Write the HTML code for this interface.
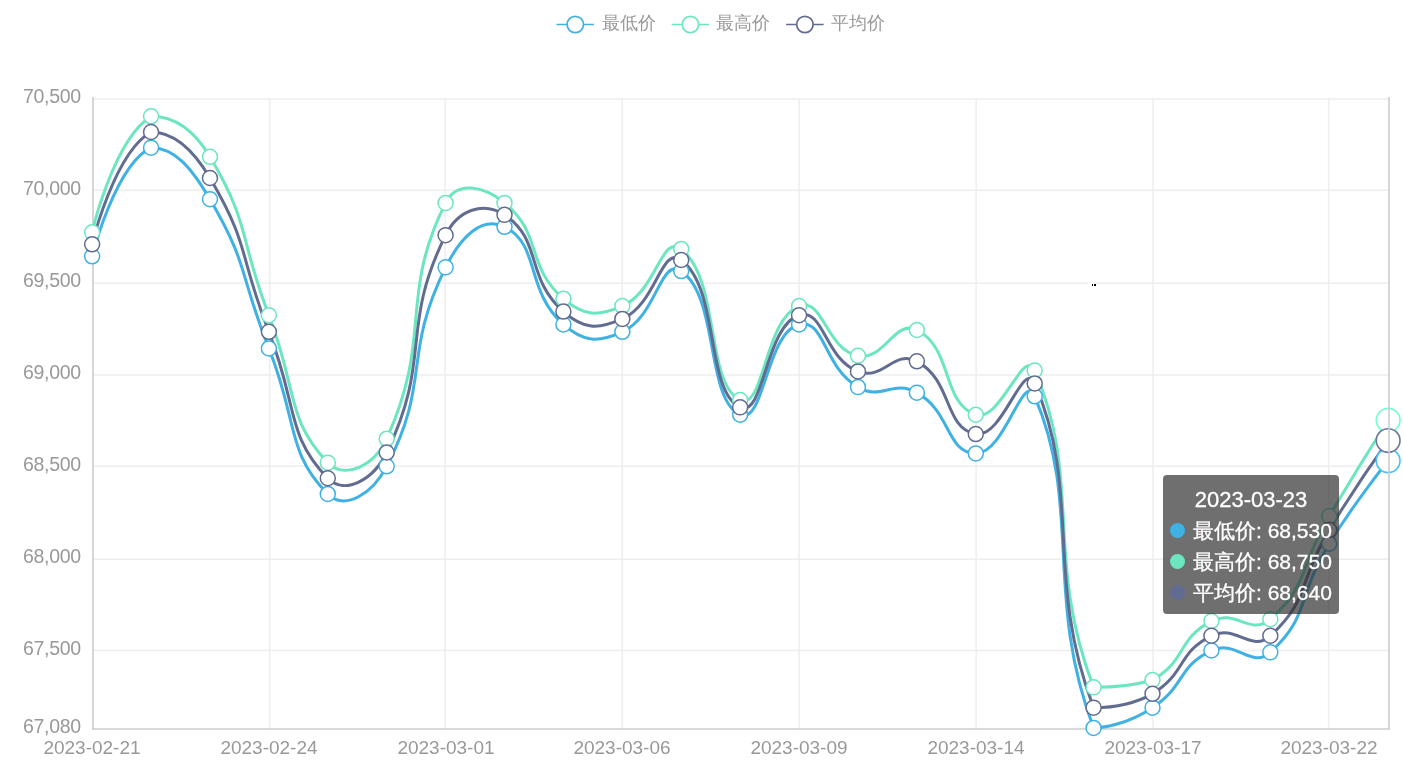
<!DOCTYPE html>
<html><head><meta charset="utf-8"><style>
html,body{margin:0;padding:0;background:#fff;width:1403px;height:762px;overflow:hidden;}
body{position:relative;font-family:"Liberation Sans",sans-serif;}
.yl,.xl,.lg,.tt{will-change:transform;}
svg{position:absolute;left:0;top:0;}
.yl{position:absolute;right:1322px;color:#999;font-size:19.5px;letter-spacing:-0.3px;line-height:20px;height:20px;white-space:nowrap;}
.xl{position:absolute;width:200px;text-align:center;color:#999;font-size:19px;line-height:20px;white-space:nowrap;}
.lg{position:absolute;top:12px;color:#999;font-size:18px;line-height:22px;white-space:nowrap;}
.tt{position:absolute;left:1163px;top:475px;width:176px;height:139px;background:rgba(50,50,50,0.7);border-radius:4px;color:#fff;font-size:21px;-webkit-text-stroke:0.3px #fff;}
.tt .t{position:absolute;left:0;width:176px;text-align:center;top:12px;line-height:26px;font-size:22px;}
.tt .r{position:absolute;left:30px;line-height:26px;white-space:nowrap;}
.tt .d{position:absolute;left:7px;width:15px;height:15px;border-radius:50%;}
</style></head><body>

<svg width="1403" height="762" viewBox="0 0 1403 762">
<line x1="93.00" y1="99.00" x2="1389.00" y2="99.00" stroke="#eeeeee" stroke-width="1.5"/>
<line x1="93.00" y1="190.20" x2="1389.00" y2="190.20" stroke="#eeeeee" stroke-width="1.5"/>
<line x1="93.00" y1="283.20" x2="1389.00" y2="283.20" stroke="#eeeeee" stroke-width="1.5"/>
<line x1="93.00" y1="374.90" x2="1389.00" y2="374.90" stroke="#eeeeee" stroke-width="1.5"/>
<line x1="93.00" y1="466.20" x2="1389.00" y2="466.20" stroke="#eeeeee" stroke-width="1.5"/>
<line x1="93.00" y1="559.20" x2="1389.00" y2="559.20" stroke="#eeeeee" stroke-width="1.5"/>
<line x1="93.00" y1="650.60" x2="1389.00" y2="650.60" stroke="#eeeeee" stroke-width="1.5"/>
<line x1="269.70" y1="99.00" x2="269.70" y2="729.00" stroke="#eeeeee" stroke-width="1.5"/>
<line x1="445.10" y1="99.00" x2="445.10" y2="729.00" stroke="#eeeeee" stroke-width="1.5"/>
<line x1="622.20" y1="99.00" x2="622.20" y2="729.00" stroke="#eeeeee" stroke-width="1.5"/>
<line x1="799.10" y1="99.00" x2="799.10" y2="729.00" stroke="#eeeeee" stroke-width="1.5"/>
<line x1="976.10" y1="99.00" x2="976.10" y2="729.00" stroke="#eeeeee" stroke-width="1.5"/>
<line x1="1153.10" y1="99.00" x2="1153.10" y2="729.00" stroke="#eeeeee" stroke-width="1.5"/>
<line x1="1328.60" y1="99.00" x2="1328.60" y2="729.00" stroke="#eeeeee" stroke-width="1.5"/>
<line x1="93.00" y1="97.00" x2="93.00" y2="730.00" stroke="#cccccc" stroke-width="1.6"/>
<line x1="92.00" y1="729.00" x2="1390.00" y2="729.00" stroke="#cccccc" stroke-width="1.6"/>
<path d="M93.00 257.42 C93.00 257.42 115.84 166.22 151.91 148.74 C174.75 148.74 191.50 167.39 210.82 200.32 C250.41 267.78 239.96 275.05 269.73 349.53 C298.86 422.42 286.99 453.38 328.64 495.05 C345.90 512.32 373.48 494.47 387.55 467.42 C432.39 381.18 402.64 357.52 446.45 268.47 C461.55 237.79 482.66 216.94 505.36 227.95 C541.57 245.50 525.53 291.05 564.27 325.58 C584.44 343.55 598.90 343.96 623.18 332.95 C657.81 317.25 661.31 257.54 682.09 272.16 C720.22 298.98 706.23 400.08 741.00 415.84 C765.14 426.79 767.14 333.26 799.91 325.58 C826.05 319.45 823.92 368.02 858.82 388.21 C882.83 402.10 893.49 380.10 917.73 393.74 C952.40 413.25 946.72 453.59 976.64 454.53 C1005.63 455.43 1024.01 370.54 1035.55 397.42 C1082.91 507.77 1044.74 597.64 1094.45 729.00 C1103.65 729.00 1127.94 725.43 1153.36 708.74 C1186.85 686.75 1177.99 667.71 1212.27 651.63 C1236.90 640.08 1252.16 670.72 1271.18 653.47 C1311.07 617.30 1297.77 597.35 1330.09 544.79 C1356.68 501.56 1389.00 461.89 1389.00 461.89" fill="none" stroke="#3fb1e3" stroke-width="3" stroke-linejoin="round" transform="translate(-0.85 -1.10)"/>
<path d="M93.00 233.47 C93.00 233.47 113.89 141.79 151.91 117.42 C172.80 117.42 193.31 128.38 210.82 157.95 C252.21 227.85 239.35 237.52 269.73 316.37 C298.25 390.41 286.58 419.68 328.64 463.74 C345.49 481.39 375.33 466.72 387.55 439.79 C434.24 336.85 399.04 298.89 446.45 204.00 C457.95 181.00 485.11 187.54 505.36 204.00 C544.02 235.43 525.72 266.03 564.27 299.79 C584.63 317.61 598.45 317.60 623.18 307.16 C657.36 292.73 662.30 234.27 682.09 250.05 C721.21 281.24 706.02 384.15 741.00 401.11 C764.93 412.70 765.16 320.20 799.91 307.16 C824.07 298.09 826.70 350.37 858.82 356.89 C885.61 362.34 895.11 319.79 917.73 331.11 C954.02 349.26 942.26 404.02 976.64 415.84 C1001.17 424.28 1024.59 346.27 1035.55 371.63 C1083.50 482.59 1044.71 557.81 1094.45 688.47 C1103.62 688.47 1128.86 688.47 1153.36 681.11 C1187.77 661.74 1177.77 639.96 1212.27 622.16 C1236.68 609.57 1251.65 637.73 1271.18 620.32 C1310.56 585.23 1299.83 568.26 1330.09 517.16 C1358.74 468.78 1389.00 421.37 1389.00 421.37" fill="none" stroke="#6be6c1" stroke-width="3" stroke-linejoin="round" transform="translate(-0.85 -1.10)"/>
<path d="M93.00 245.45 C93.00 245.45 114.84 153.94 151.91 133.08 C173.75 133.08 192.43 147.93 210.82 179.13 C251.33 247.86 239.65 256.29 269.73 332.95 C298.56 406.42 286.78 436.53 328.64 479.39 C345.69 496.86 374.46 480.61 387.55 453.61 C433.37 359.03 400.31 329.31 446.45 236.24 C459.22 210.49 484.46 202.41 505.36 215.97 C543.37 240.63 525.63 278.54 564.27 312.68 C584.53 330.58 598.67 330.78 623.18 320.05 C657.58 304.99 661.81 245.88 682.09 261.11 C720.72 290.09 706.12 392.11 741.00 408.47 C765.03 419.74 766.14 326.66 799.91 316.37 C825.05 308.70 824.85 359.28 858.82 372.55 C883.76 382.30 894.77 350.22 917.73 362.42 C953.68 381.53 944.44 429.14 976.64 435.18 C1003.35 440.20 1024.31 358.43 1035.55 384.53 C1083.21 495.21 1044.68 577.62 1094.45 708.74 C1103.59 708.74 1128.47 708.74 1153.36 694.92 C1187.38 674.18 1177.87 653.84 1212.27 636.89 C1236.78 624.82 1251.91 654.22 1271.18 636.89 C1310.82 601.26 1298.81 582.82 1330.09 530.97 C1357.71 485.19 1389.00 441.63 1389.00 441.63" fill="none" stroke="#626c91" stroke-width="3" stroke-linejoin="round" transform="translate(-0.85 -1.10)"/>
<circle cx="92.15" cy="256.32" r="7.5" fill="#fff" stroke="#3fb1e3" stroke-width="1.5"/>
<circle cx="151.06" cy="147.64" r="7.5" fill="#fff" stroke="#3fb1e3" stroke-width="1.5"/>
<circle cx="209.97" cy="199.22" r="7.5" fill="#fff" stroke="#3fb1e3" stroke-width="1.5"/>
<circle cx="268.88" cy="348.43" r="7.5" fill="#fff" stroke="#3fb1e3" stroke-width="1.5"/>
<circle cx="327.79" cy="493.95" r="7.5" fill="#fff" stroke="#3fb1e3" stroke-width="1.5"/>
<circle cx="386.70" cy="466.32" r="7.5" fill="#fff" stroke="#3fb1e3" stroke-width="1.5"/>
<circle cx="445.60" cy="267.37" r="7.5" fill="#fff" stroke="#3fb1e3" stroke-width="1.5"/>
<circle cx="504.51" cy="226.85" r="7.5" fill="#fff" stroke="#3fb1e3" stroke-width="1.5"/>
<circle cx="563.42" cy="324.48" r="7.5" fill="#fff" stroke="#3fb1e3" stroke-width="1.5"/>
<circle cx="622.33" cy="331.85" r="7.5" fill="#fff" stroke="#3fb1e3" stroke-width="1.5"/>
<circle cx="681.24" cy="271.06" r="7.5" fill="#fff" stroke="#3fb1e3" stroke-width="1.5"/>
<circle cx="740.15" cy="414.74" r="7.5" fill="#fff" stroke="#3fb1e3" stroke-width="1.5"/>
<circle cx="799.06" cy="324.48" r="7.5" fill="#fff" stroke="#3fb1e3" stroke-width="1.5"/>
<circle cx="857.97" cy="387.11" r="7.5" fill="#fff" stroke="#3fb1e3" stroke-width="1.5"/>
<circle cx="916.88" cy="392.64" r="7.5" fill="#fff" stroke="#3fb1e3" stroke-width="1.5"/>
<circle cx="975.79" cy="453.43" r="7.5" fill="#fff" stroke="#3fb1e3" stroke-width="1.5"/>
<circle cx="1034.70" cy="396.32" r="7.5" fill="#fff" stroke="#3fb1e3" stroke-width="1.5"/>
<circle cx="1093.60" cy="727.90" r="7.5" fill="#fff" stroke="#3fb1e3" stroke-width="1.5"/>
<circle cx="1152.51" cy="707.64" r="7.5" fill="#fff" stroke="#3fb1e3" stroke-width="1.5"/>
<circle cx="1211.42" cy="650.53" r="7.5" fill="#fff" stroke="#3fb1e3" stroke-width="1.5"/>
<circle cx="1270.33" cy="652.37" r="7.5" fill="#fff" stroke="#3fb1e3" stroke-width="1.5"/>
<circle cx="1329.24" cy="543.69" r="7.5" fill="#fff" stroke="#3fb1e3" stroke-width="1.5"/>
<circle cx="92.15" cy="232.37" r="7.5" fill="#fff" stroke="#6be6c1" stroke-width="1.5"/>
<circle cx="151.06" cy="116.32" r="7.5" fill="#fff" stroke="#6be6c1" stroke-width="1.5"/>
<circle cx="209.97" cy="156.85" r="7.5" fill="#fff" stroke="#6be6c1" stroke-width="1.5"/>
<circle cx="268.88" cy="315.27" r="7.5" fill="#fff" stroke="#6be6c1" stroke-width="1.5"/>
<circle cx="327.79" cy="462.64" r="7.5" fill="#fff" stroke="#6be6c1" stroke-width="1.5"/>
<circle cx="386.70" cy="438.69" r="7.5" fill="#fff" stroke="#6be6c1" stroke-width="1.5"/>
<circle cx="445.60" cy="202.90" r="7.5" fill="#fff" stroke="#6be6c1" stroke-width="1.5"/>
<circle cx="504.51" cy="202.90" r="7.5" fill="#fff" stroke="#6be6c1" stroke-width="1.5"/>
<circle cx="563.42" cy="298.69" r="7.5" fill="#fff" stroke="#6be6c1" stroke-width="1.5"/>
<circle cx="622.33" cy="306.06" r="7.5" fill="#fff" stroke="#6be6c1" stroke-width="1.5"/>
<circle cx="681.24" cy="248.95" r="7.5" fill="#fff" stroke="#6be6c1" stroke-width="1.5"/>
<circle cx="740.15" cy="400.01" r="7.5" fill="#fff" stroke="#6be6c1" stroke-width="1.5"/>
<circle cx="799.06" cy="306.06" r="7.5" fill="#fff" stroke="#6be6c1" stroke-width="1.5"/>
<circle cx="857.97" cy="355.79" r="7.5" fill="#fff" stroke="#6be6c1" stroke-width="1.5"/>
<circle cx="916.88" cy="330.01" r="7.5" fill="#fff" stroke="#6be6c1" stroke-width="1.5"/>
<circle cx="975.79" cy="414.74" r="7.5" fill="#fff" stroke="#6be6c1" stroke-width="1.5"/>
<circle cx="1034.70" cy="370.53" r="7.5" fill="#fff" stroke="#6be6c1" stroke-width="1.5"/>
<circle cx="1093.60" cy="687.37" r="7.5" fill="#fff" stroke="#6be6c1" stroke-width="1.5"/>
<circle cx="1152.51" cy="680.01" r="7.5" fill="#fff" stroke="#6be6c1" stroke-width="1.5"/>
<circle cx="1211.42" cy="621.06" r="7.5" fill="#fff" stroke="#6be6c1" stroke-width="1.5"/>
<circle cx="1270.33" cy="619.22" r="7.5" fill="#fff" stroke="#6be6c1" stroke-width="1.5"/>
<circle cx="1329.24" cy="516.06" r="7.5" fill="#fff" stroke="#6be6c1" stroke-width="1.5"/>
<circle cx="92.15" cy="244.35" r="7.5" fill="#fff" stroke="#626c91" stroke-width="1.5"/>
<circle cx="151.06" cy="131.98" r="7.5" fill="#fff" stroke="#626c91" stroke-width="1.5"/>
<circle cx="209.97" cy="178.03" r="7.5" fill="#fff" stroke="#626c91" stroke-width="1.5"/>
<circle cx="268.88" cy="331.85" r="7.5" fill="#fff" stroke="#626c91" stroke-width="1.5"/>
<circle cx="327.79" cy="478.29" r="7.5" fill="#fff" stroke="#626c91" stroke-width="1.5"/>
<circle cx="386.70" cy="452.51" r="7.5" fill="#fff" stroke="#626c91" stroke-width="1.5"/>
<circle cx="445.60" cy="235.14" r="7.5" fill="#fff" stroke="#626c91" stroke-width="1.5"/>
<circle cx="504.51" cy="214.87" r="7.5" fill="#fff" stroke="#626c91" stroke-width="1.5"/>
<circle cx="563.42" cy="311.58" r="7.5" fill="#fff" stroke="#626c91" stroke-width="1.5"/>
<circle cx="622.33" cy="318.95" r="7.5" fill="#fff" stroke="#626c91" stroke-width="1.5"/>
<circle cx="681.24" cy="260.01" r="7.5" fill="#fff" stroke="#626c91" stroke-width="1.5"/>
<circle cx="740.15" cy="407.37" r="7.5" fill="#fff" stroke="#626c91" stroke-width="1.5"/>
<circle cx="799.06" cy="315.27" r="7.5" fill="#fff" stroke="#626c91" stroke-width="1.5"/>
<circle cx="857.97" cy="371.45" r="7.5" fill="#fff" stroke="#626c91" stroke-width="1.5"/>
<circle cx="916.88" cy="361.32" r="7.5" fill="#fff" stroke="#626c91" stroke-width="1.5"/>
<circle cx="975.79" cy="434.08" r="7.5" fill="#fff" stroke="#626c91" stroke-width="1.5"/>
<circle cx="1034.70" cy="383.43" r="7.5" fill="#fff" stroke="#626c91" stroke-width="1.5"/>
<circle cx="1093.60" cy="707.64" r="7.5" fill="#fff" stroke="#626c91" stroke-width="1.5"/>
<circle cx="1152.51" cy="693.82" r="7.5" fill="#fff" stroke="#626c91" stroke-width="1.5"/>
<circle cx="1211.42" cy="635.79" r="7.5" fill="#fff" stroke="#626c91" stroke-width="1.5"/>
<circle cx="1270.33" cy="635.79" r="7.5" fill="#fff" stroke="#626c91" stroke-width="1.5"/>
<circle cx="1329.24" cy="529.87" r="7.5" fill="#fff" stroke="#626c91" stroke-width="1.5"/>
<circle cx="1388.15" cy="460.79" r="11.85" fill="#fff" stroke="#45c2f9" stroke-width="1.6"/>
<circle cx="1388.15" cy="420.27" r="11.85" fill="#fff" stroke="#75fdd4" stroke-width="1.6"/>
<circle cx="1388.15" cy="440.53" r="11.85" fill="#fff" stroke="#6b769f" stroke-width="1.6"/>
<line x1="1389.00" y1="97.00" x2="1389.00" y2="729.00" stroke="#cccccc" stroke-width="1.6"/>
<line x1="556.5" y1="24.5" x2="594.0" y2="24.5" stroke="#3fb1e3" stroke-width="1.6"/>
<circle cx="575.3" cy="24.5" r="8.2" fill="#fff" stroke="#3fb1e3" stroke-width="1.7"/>
<line x1="671.6" y1="24.5" x2="709.1" y2="24.5" stroke="#6be6c1" stroke-width="1.6"/>
<circle cx="690.4" cy="24.5" r="8.2" fill="#fff" stroke="#6be6c1" stroke-width="1.7"/>
<line x1="786.1" y1="24.5" x2="823.6" y2="24.5" stroke="#626c91" stroke-width="1.6"/>
<circle cx="804.9" cy="24.5" r="8.2" fill="#fff" stroke="#626c91" stroke-width="1.7"/>
<rect x="1088" y="283" width="8" height="1" fill="#fff"/><rect x="1092" y="284" width="1" height="2" fill="#000"/><rect x="1094" y="284" width="2" height="2" fill="#000"/>
</svg>
<div class="yl" style="top:85.70px">70,500</div>
<div class="yl" style="top:177.78px">70,000</div>
<div class="yl" style="top:269.86px">69,500</div>
<div class="yl" style="top:361.94px">69,000</div>
<div class="yl" style="top:454.02px">68,500</div>
<div class="yl" style="top:546.10px">68,000</div>
<div class="yl" style="top:638.18px">67,500</div>
<div class="yl" style="top:715.53px">67,080</div>
<div class="xl" style="left:-7.85px;top:738px">2023-02-21</div>
<div class="xl" style="left:168.88px;top:738px">2023-02-24</div>
<div class="xl" style="left:345.60px;top:738px">2023-03-01</div>
<div class="xl" style="left:522.33px;top:738px">2023-03-06</div>
<div class="xl" style="left:699.06px;top:738px">2023-03-09</div>
<div class="xl" style="left:875.79px;top:738px">2023-03-14</div>
<div class="xl" style="left:1052.51px;top:738px">2023-03-17</div>
<div class="xl" style="left:1229.24px;top:738px">2023-03-22</div>
<div class="lg" style="left:602px">最低价</div>
<div class="lg" style="left:716px">最高价</div>
<div class="lg" style="left:831px">平均价</div>
<div class="tt"><div class="t">2023-03-23</div>
<div class="d" style="top:47.9px;background:#3fb1e3"></div><div class="r" style="top:43.0px">最低价: 68,530</div>
<div class="d" style="top:78.8px;background:#6be6c1"></div><div class="r" style="top:73.8px">最高价: 68,750</div>
<div class="d" style="top:109.6px;background:#626c91"></div><div class="r" style="top:104.7px">平均价: 68,640</div>
</div>
</body></html>
